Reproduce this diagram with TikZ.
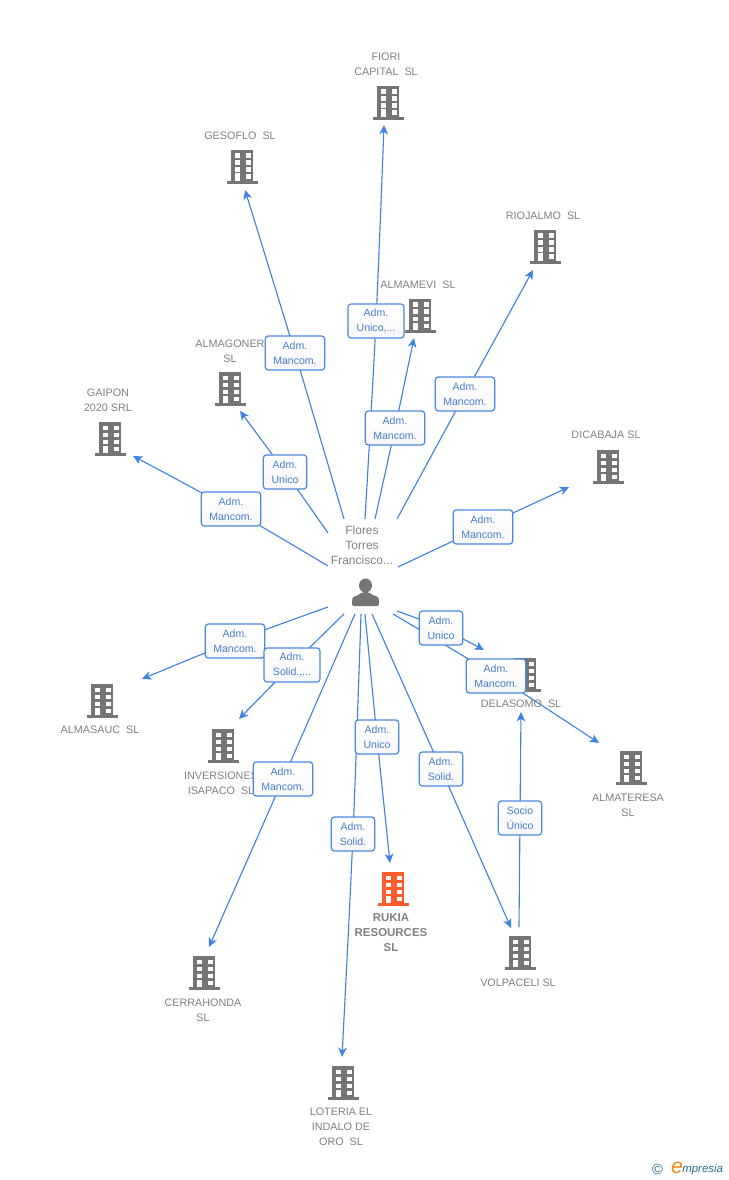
\documentclass[tikz,border=0pt]{standalone}
\usepackage{fontspec}
\setmainfont{Liberation Sans}
\usetikzlibrary{arrows.meta}
\definecolor{edgeblue}{HTML}{3F83E0}
\definecolor{boxblue}{HTML}{4A88E0}
\definecolor{icongrey}{HTML}{757575}
\definecolor{labelgrey}{HTML}{808080}
\definecolor{rukia}{HTML}{FF5C2B}
\definecolor{logoblue}{HTML}{2B6C8E}
\definecolor{logoorange}{HTML}{F58A1F}
\tikzset{
  x=0.75pt,y=-0.75pt,
  conn/.style={draw=edgeblue,line width=0.85pt,-{Stealth[length=7pt,width=6.5pt,inset=2pt]}},
  plainconn/.style={draw=edgeblue,line width=0.85pt},
  role/.style={draw=boxblue,line width=0.9pt,rounded corners=2.2pt,top color=white,bottom color=white!94!gray,
    text=boxblue!92!black,font=\fontsize{7.9pt}{11.2pt}\selectfont,align=center,minimum height=25.5pt,inner sep=0pt},
  widebox/.style={role,minimum width=44.5pt},
  midbox/.style={role,minimum width=42pt},
  narrowbox/.style={role,minimum width=32.5pt},
  lab/.style={text=labelgrey,font=\fontsize{8.1pt}{11.3pt}\selectfont,align=center,inner sep=0pt},
  pics/bldg/.style={code={
    \fill[#1] (-11,-34) rectangle (11,-3);
    \fill[#1] (-15.5,-3) rectangle (15.5,0);
    \foreach \wy in {-30.5,-23.5,-16.5,-9.5}{
      \fill[white] (4,\wy) rectangle ++(5,4.6);
    }
    \foreach \wy in {-30.5,-23.5,-16.5}{
      \fill[white] (-7.5,\wy) rectangle ++(5,4.6);
    }
    \fill[white] (-7.5,-10.5) rectangle (-2.5,-3);
  }},
}
\begin{document}
\begin{tikzpicture}
\useasboundingbox (0,0) rectangle (728,1180);
% connector ends
\foreach \n/\x/\y in {
 sfio/365/519,tfio/384/125,sges/344/519,tges/245/190,salv/375/519,talv/414/338,
 srio/397/519,trio/533/270,sagn/328/533,tagn/240/411,sgai/328/566,tgai/133/456,
 sdic/398/567,tdic/569/487,sasa/328/607,tasa/142/679,sinv/344/614,tinv/239/719,
 scer/355/614,tcer/209/947,slot/361/614,tlot/342/1057,sruk/365/614,truk/390/863,
 svol/372/614,tvol/511/928,sdel/397/611,tdel/484/650,sate/393/614,tate/599/743,
 ssoc/519/927,tsoc/521/712}{\coordinate (\n) at (\x,\y);}
% role labels (coordinates first, boxes drawn later)
\foreach \n/\x/\y in {
 mfio/376/321,mges/295/353,malv/395/428,mrio/465/394,magn/285/472,mgai/231/509,
 mdic/483/527,masa/235/641,minv/292/665,mcer/283/779,mlot/353/834,mruk/377/737,
 mvol/441/769,mdel/441/628,mate/496/676,msoc/520/818}{\coordinate (\n) at (\x,\y);}
% connectors
\foreach \k in {fio,ges,alv,rio,agn,gai,dic,asa,inv,cer,lot,ruk,vol,del,ate,soc}{
  \draw[conn] plot[smooth,tension=0.6] coordinates {(s\k) (m\k) (t\k)};
}
% buildings
\pic {bldg=icongrey} ;
\path (388,120) pic {bldg=icongrey};
\path (242,184) pic {bldg=icongrey};
\path (545,264) pic {bldg=icongrey};
\path (420,333) pic {bldg=icongrey};
\path (230,406) pic {bldg=icongrey};
\path (110,456) pic {bldg=icongrey};
\path (608,484) pic {bldg=icongrey};
\path (525,692) pic {bldg=icongrey};
\path (102,718) pic {bldg=icongrey};
\path (223,763) pic {bldg=icongrey};
\path (631,785) pic {bldg=icongrey};
\path (393,906) pic {bldg=rukia};
\path (520,970) pic {bldg=icongrey};
\path (204,990) pic {bldg=icongrey};
\path (343,1100) pic {bldg=icongrey};
% company labels
\node[lab] (lfio) at (386,64) {FIORI\\CAPITAL\ \ SL};
\node[lab] (lges) at (240,136) {GESOFLO\ \ SL};
\node[lab] (lrio) at (543,216) {RIOJALMO\ \ SL};
\node[lab] (lalv) at (418,285) {ALMAMEVI\ \ SL};
\node[lab] (lagn) at (230,351) {ALMAGONER\\SL};
\node[lab] (lgai) at (108,400) {GAIPON\\2020 SRL};
\node[lab] (ldic) at (606,435) {DICABAJA SL};
\node[lab] (ldel) at (521,704) {DELASOMO\ \ SL};
\node[lab] (lasa) at (100,730) {ALMASAUC\ \ SL};
\node[lab] (linv) at (221,783) {INVERSIONES\\ISAPACO\ \ SL};
\node[lab] (late) at (628,805) {ALMATERESA\\SL};
\node[lab,font=\bfseries\fontsize{8.6pt}{11.3pt}\selectfont] (lruk) at (391,933) {RUKIA\\RESOURCES\\SL};
\node[lab] (lvol) at (518,983) {VOLPACELI SL};
\node[lab] (lcer) at (203,1010) {CERRAHONDA\\SL};
\node[lab] (llot) at (341,1127) {LOTERIA EL\\INDALO DE\\ORO\ \ SL};
% person
\node[lab,font=\fontsize{9pt}{11.3pt}\selectfont] (person) at (362,545) {Flores\\Torres\\Francisco...};
\fill[icongrey] (365.5,585.5) ellipse (6.5 and 7);
\fill[icongrey,rounded corners=1.5pt] (352,606) -- (352,600) .. controls (353,596) and (358,596) .. (362,592) -- (369,592) .. controls (373,596) and (378,596) .. (379,600) -- (379,606) -- cycle;
% boxes
\node[midbox]    (bfio) at (mfio) {Adm.\\Unico,...};
\node[widebox]   (bges) at (mges) {Adm.\\Mancom.};
\node[widebox]   (balv) at (malv) {Adm.\\Mancom.};
\node[widebox]   (brio) at (mrio) {Adm.\\Mancom.};
\node[narrowbox] (bagn) at (magn) {Adm.\\Unico};
\node[widebox]   (bgai) at (mgai) {Adm.\\Mancom.};
\node[widebox]   (bdic) at (mdic) {Adm.\\Mancom.};
\node[widebox]   (basa) at (masa) {Adm.\\Mancom.};
\node[midbox]    (binv) at (minv) {Adm.\\Solid.,...};
\node[widebox]   (bcer) at (mcer) {Adm.\\Mancom.};
\node[narrowbox] (blot) at (mlot) {Adm.\\Solid.};
\node[narrowbox] (bruk) at (mruk) {Adm.\\Unico};
\node[narrowbox] (bvol) at (mvol) {Adm.\\Solid.};
\node[narrowbox] (bdel) at (mdel) {Adm.\\Unico};
\node[widebox]   (bate) at (mate) {Adm.\\Mancom.};
\node[narrowbox] (bsoc) at (msoc) {Socio\\Único};
% logo
\node[text=logoblue,inner sep=0pt,font=\fontsize{11pt}{11pt}\selectfont] (copy) at (657.5,1169) {©};
\node[text=logoorange,inner sep=0pt,font=\itshape\fontsize{16pt}{16pt}\selectfont] (loge) at (677,1168) {e};
\node[text=logoblue,inner sep=0pt,anchor=west,font=\itshape\fontsize{8.6pt}{9pt}\selectfont] (logt) at (682,1170) {mpresia};
\end{tikzpicture}
\end{document}
